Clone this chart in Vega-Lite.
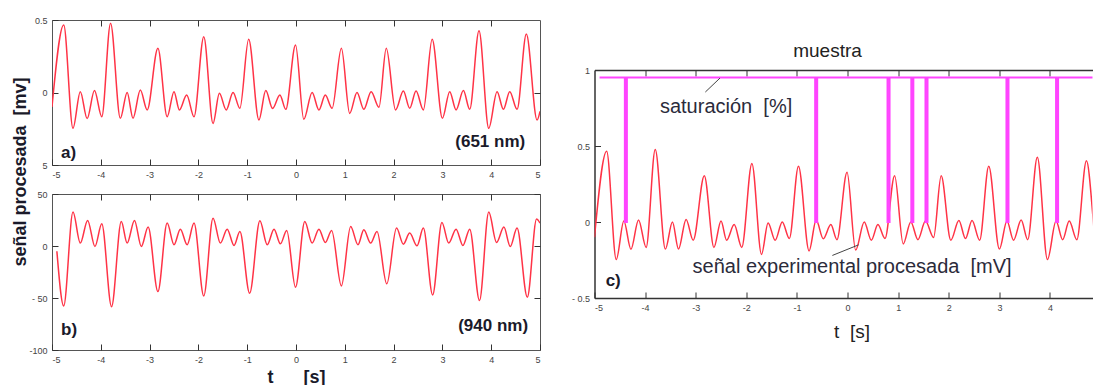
{
  "$schema": "https://vega.github.io/schema/vega-lite/v6.json",
  "padding": {"left": 12, "top": 15, "right": 0, "bottom": 0},
  "background": "white",
  "config": {
    "font": "Liberation Sans",
    "view": {"stroke": "#555", "strokeWidth": 1},
    "axis": {
      "grid": false,
      "domain": false,
      "tickSize": -6,
      "tickColor": "#333",
      "labelPadding": 11,
      "labelFontSize": 9,
      "labelColor": "#444",
      "labelFont": "Liberation Sans",
      "title": null
    }
  },
  "datasets": {
    "sig651": [
      {"t": -5.00, "v": -0.10}, {"t": -4.76, "v": 0.465}, {"t": -4.57, "v": -0.247}, {"t": -4.42, "v": 0.006},
      {"t": -4.28, "v": -0.18}, {"t": -4.13, "v": 0.013}, {"t": -3.98, "v": -0.167}, {"t": -3.80, "v": 0.477},
      {"t": -3.60, "v": -0.178}, {"t": -3.46, "v": 0.0}, {"t": -3.34, "v": -0.178}, {"t": -3.19, "v": 0.017},
      {"t": -3.05, "v": -0.12}, {"t": -2.83, "v": 0.305}, {"t": -2.64, "v": -0.167}, {"t": -2.50, "v": 0.006},
      {"t": -2.39, "v": -0.12}, {"t": -2.24, "v": -0.017}, {"t": -2.09, "v": -0.167}, {"t": -1.89, "v": 0.385},
      {"t": -1.70, "v": -0.213}, {"t": -1.57, "v": -0.006}, {"t": -1.43, "v": -0.12}, {"t": -1.29, "v": 0.0},
      {"t": -1.15, "v": -0.109}, {"t": -0.97, "v": 0.367}, {"t": -0.76, "v": -0.19}, {"t": -0.62, "v": 0.013},
      {"t": -0.48, "v": -0.11}, {"t": -0.33, "v": -0.017}, {"t": -0.21, "v": -0.116}, {"t": -0.01, "v": 0.327},
      {"t": 0.16, "v": -0.185}, {"t": 0.33, "v": 0.0}, {"t": 0.47, "v": -0.12}, {"t": 0.60, "v": -0.017},
      {"t": 0.74, "v": -0.109}, {"t": 0.93, "v": 0.305}, {"t": 1.10, "v": -0.144}, {"t": 1.25, "v": 0.0},
      {"t": 1.39, "v": -0.116}, {"t": 1.54, "v": 0.006}, {"t": 1.70, "v": -0.102}, {"t": 1.85, "v": 0.305},
      {"t": 2.04, "v": -0.12}, {"t": 2.20, "v": 0.01}, {"t": 2.33, "v": -0.109}, {"t": 2.46, "v": 0.01},
      {"t": 2.61, "v": -0.12}, {"t": 2.79, "v": 0.367}, {"t": 3.00, "v": -0.178}, {"t": 3.15, "v": 0.006},
      {"t": 3.28, "v": -0.12}, {"t": 3.43, "v": 0.013}, {"t": 3.56, "v": -0.116}, {"t": 3.75, "v": 0.426},
      {"t": 3.95, "v": -0.247}, {"t": 4.12, "v": 0.006}, {"t": 4.25, "v": -0.116}, {"t": 4.38, "v": 0.006},
      {"t": 4.53, "v": -0.116}, {"t": 4.72, "v": 0.403}, {"t": 4.94, "v": -0.19}, {"t": 5.00, "v": -0.13}
    ],
    "sig940": [
      {"t": -4.90, "v": -5}, {"t": -4.76, "v": -57.6}, {"t": -4.57, "v": 32.6}, {"t": -4.42, "v": 2.8},
      {"t": -4.27, "v": 24.6}, {"t": -4.12, "v": -0.5}, {"t": -3.98, "v": 21.4}, {"t": -3.78, "v": -58.3},
      {"t": -3.58, "v": 23.6}, {"t": -3.46, "v": 2.8}, {"t": -3.31, "v": 24.6}, {"t": -3.17, "v": -0.5},
      {"t": -3.03, "v": 18.2}, {"t": -2.83, "v": -43.8}, {"t": -2.64, "v": 22.0}, {"t": -2.50, "v": 1.2},
      {"t": -2.37, "v": 16.2}, {"t": -2.23, "v": 1.2}, {"t": -2.09, "v": 22.0}, {"t": -1.89, "v": -48.0},
      {"t": -1.70, "v": 26.8}, {"t": -1.55, "v": 2.8}, {"t": -1.41, "v": 16.2}, {"t": -1.27, "v": 0.5},
      {"t": -1.15, "v": 14.0}, {"t": -0.95, "v": -45.5}, {"t": -0.74, "v": 24.3}, {"t": -0.59, "v": 1.2},
      {"t": -0.45, "v": 16.2}, {"t": -0.32, "v": 2.1}, {"t": -0.19, "v": 15.0}, {"t": -0.01, "v": -39.7},
      {"t": 0.18, "v": 23.6}, {"t": 0.33, "v": 2.8}, {"t": 0.47, "v": 16.2}, {"t": 0.60, "v": 3.4},
      {"t": 0.73, "v": 15.0}, {"t": 0.93, "v": -38.4}, {"t": 1.12, "v": 18.8}, {"t": 1.27, "v": 1.2},
      {"t": 1.39, "v": 15.6}, {"t": 1.53, "v": 2.8}, {"t": 1.66, "v": 14.0}, {"t": 1.86, "v": -36.4},
      {"t": 2.06, "v": 17.2}, {"t": 2.20, "v": 1.8}, {"t": 2.33, "v": 12.4}, {"t": 2.48, "v": 0.2},
      {"t": 2.61, "v": 17.2}, {"t": 2.80, "v": -47.0}, {"t": 2.99, "v": 22.6}, {"t": 3.13, "v": 2.8},
      {"t": 3.28, "v": 16.2}, {"t": 3.42, "v": 0.5}, {"t": 3.56, "v": 16.2}, {"t": 3.76, "v": -52.5},
      {"t": 3.95, "v": 32.6}, {"t": 4.11, "v": 3.4}, {"t": 4.26, "v": 18.2}, {"t": 4.39, "v": -0.5},
      {"t": 4.53, "v": 17.2}, {"t": 4.74, "v": -49.3}, {"t": 4.93, "v": 25.9}, {"t": 5.00, "v": 22.0}
    ],
    "sat": [
      {"t": -4.90, "v": 0.95},
      {"t": -4.40, "v": 0.95}, {"t": -4.40, "v": 0}, {"t": -4.36, "v": 0}, {"t": -4.36, "v": 0.95},
      {"t": -0.64, "v": 0.95}, {"t": -0.64, "v": 0}, {"t": -0.60, "v": 0}, {"t": -0.60, "v": 0.95},
      {"t": 0.79, "v": 0.95}, {"t": 0.79, "v": 0}, {"t": 0.83, "v": 0}, {"t": 0.83, "v": 0.95},
      {"t": 1.26, "v": 0.95}, {"t": 1.26, "v": 0}, {"t": 1.30, "v": 0}, {"t": 1.30, "v": 0.95},
      {"t": 1.54, "v": 0.95}, {"t": 1.54, "v": 0}, {"t": 1.58, "v": 0}, {"t": 1.58, "v": 0.95},
      {"t": 3.14, "v": 0.95}, {"t": 3.14, "v": 0}, {"t": 3.18, "v": 0}, {"t": 3.18, "v": 0.95},
      {"t": 4.12, "v": 0.95}, {"t": 4.12, "v": 0}, {"t": 4.16, "v": 0}, {"t": 4.16, "v": 0.95},
      {"t": 5.00, "v": 0.95}
    ]
  },
  "spacing": 29.5,
  "hconcat": [
    {
      "bounds": "flush",
      "spacing": 29,
      "title": {
        "text": "señal procesada\u00a0\u00a0[mv]",
        "orient": "left",
        "anchor": "middle",
        "fontSize": 18,
        "fontWeight": "bold",
        "color": "#1a1a2a",
        "offset": -2,
        "dx": 29
      },
      "vconcat": [
        {
          "width": 488,
          "height": 145,
          "resolve": {"axis": {"x": "independent", "y": "independent"}},
          "layer": [
            {
              "data": {"name": "sig651"},
              "mark": {"type": "line", "color": "#ff3346", "strokeWidth": 1.5, "interpolate": "monotone", "clip": true},
              "encoding": {
                "x": {"field": "t", "type": "quantitative", "scale": {"domain": [-5, 5], "nice": false, "zero": false},
                      "axis": {"orient": "bottom", "values": [-5, -4, -3, -2, -1, 0, 1, 2, 3, 4, 5],
                               "labelExpr": "datum.value < 0 ? '-' + abs(datum.value) : '' + datum.value"}},
                "y": {"field": "v", "type": "quantitative", "scale": {"domain": [-0.5, 0.5], "nice": false, "zero": false},
                      "axis": {"orient": "left", "values": [-0.5, 0, 0.5],
                               "labelExpr": "datum.value == 0.5 ? '0.5' : datum.value == 0 ? '0' : '5'"}}
              }
            },
            {
              "data": {"values": [
                {"t": -4.66, "v": -0.417, "s": "a)"},
                {"t": 3.98, "v": -0.338, "s": "(651 nm)"}
              ]},
              "mark": {"type": "text", "fontSize": 17, "fontWeight": "bold", "color": "#1a1a2a"},
              "encoding": {
                "x": {"field": "t", "type": "quantitative",
                      "axis": {"orient": "top", "values": [-4, -3, -2, -1, 0, 1, 2, 3, 4], "labels": false}},
                "y": {"field": "v", "type": "quantitative",
                      "axis": {"orient": "right", "values": [0], "labels": false}},
                "text": {"field": "s"}
              }
            }
          ]
        },
        {
          "width": 488,
          "height": 156,
          "resolve": {"axis": {"x": "independent", "y": "independent"}},
          "layer": [
            {
              "data": {"name": "sig940"},
              "mark": {"type": "line", "color": "#ff3346", "strokeWidth": 1.5, "interpolate": "monotone", "clip": true},
              "encoding": {
                "x": {"field": "t", "type": "quantitative", "scale": {"domain": [-5, 5], "nice": false, "zero": false},
                      "axis": {"orient": "bottom", "values": [-5, -4, -3, -2, -1, 0, 1, 2, 3, 4, 5],
                               "labelExpr": "datum.value < 0 ? '-' + abs(datum.value) : '' + datum.value",
                               "title": "t\u00a0\u00a0\u00a0\u00a0\u00a0\u00a0[s]", "titleFontSize": 18, "titleFontWeight": "bold",
                               "titleColor": "#1a1a2a", "titlePadding": 4}},
                "y": {"field": "v", "type": "quantitative", "scale": {"domain": [-100, 50], "nice": false, "zero": false},
                      "axis": {"orient": "left", "values": [-100, -50, 0, 50],
                               "labelExpr": "datum.value == -100 ? '-100' : datum.value == -50 ? '- 50' : '' + datum.value"}}
              }
            },
            {
              "data": {"values": [
                {"t": -4.65, "v": -80.7, "s": "b)"},
                {"t": 4.04, "v": -77.4, "s": "(940 nm)"}
              ]},
              "mark": {"type": "text", "fontSize": 17, "fontWeight": "bold", "color": "#1a1a2a"},
              "encoding": {
                "x": {"field": "t", "type": "quantitative",
                      "axis": {"orient": "top", "values": [-4, -3, -2, -1, 0, 1, 2, 3, 4], "labels": false}},
                "y": {"field": "v", "type": "quantitative",
                      "axis": {"orient": "right", "values": [-50, 0, 50], "labels": false}},
                "text": {"field": "s"}
              }
            }
          ]
        }
      ]
    },
    {
      "bounds": "flush",
      "spacing": 10,
      "vconcat": [
        {
          "width": 10,
          "height": 40,
          "view": {"stroke": null},
          "data": {"values": [{}]},
          "mark": {"type": "text"},
          "encoding": {"text": {"value": ""}}
        },
        {
          "width": 498,
          "height": 228,
          "view": {"stroke": null},
          "title": {"text": "muestra", "fontSize": 19, "fontWeight": "normal", "color": "#222", "anchor": "middle", "offset": 5, "dx": -16},
          "resolve": {"axis": {"x": "independent", "y": "independent"}},
          "layer": [
            {
              "data": {"name": "sig651"},
              "mark": {"type": "line", "color": "#ff3346", "strokeWidth": 1.5, "interpolate": "monotone", "clip": true},
              "encoding": {
                "x": {"field": "t", "type": "quantitative", "scale": {"domain": [-5, 4.84], "nice": false, "zero": false},
                      "axis": {"orient": "bottom", "values": [-5, -4, -3, -2, -1, 0, 1, 2, 3, 4], "domain": true,
                               "domainColor": "#333", "domainWidth": 1.5,
                               "labelExpr": "datum.value < 0 ? '-' + abs(datum.value) : '' + datum.value",
                               "title": "t\u00a0\u00a0[s]", "titleFontSize": 19, "titleFontWeight": "normal",
                               "titleColor": "#222", "titlePadding": 10, "titleX": 257}},
                "y": {"field": "v", "type": "quantitative", "scale": {"domain": [-0.5, 1], "nice": false, "zero": false},
                      "axis": {"orient": "left", "values": [-0.5, 0, 0.5, 1], "domain": true,
                               "domainColor": "#333", "domainWidth": 1.5,
                               "labelExpr": "datum.value == -0.5 ? '- 0.5' : '' + datum.value"}}
              }
            },
            {
              "data": {"name": "sat"},
              "mark": {"type": "line", "color": "#ff44ff", "strokeWidth": 2, "interpolate": "linear", "clip": true},
              "encoding": {
                "x": {"field": "t", "type": "quantitative",
                      "axis": {"orient": "top", "values": [-4, -3, -2, -1, 0, 1, 2, 3, 4], "labels": false,
                               "domain": true, "domainColor": "#333", "domainWidth": 1.5}},
                "y": {"field": "v", "type": "quantitative", "axis": null},
                "order": {"value": null}
              }
            },
            {
              "data": {"values": [
                {"t": -2.81, "v": 0.855, "t2": -2.52, "v2": 0.947},
                {"t": -0.30, "v": -0.22, "t2": 0.22, "v2": -0.15}
              ]},
              "mark": {"type": "rule", "color": "#444", "strokeWidth": 1},
              "encoding": {
                "x": {"field": "t", "type": "quantitative", "axis": null},
                "y": {"field": "v", "type": "quantitative", "axis": null},
                "x2": {"field": "t2"},
                "y2": {"field": "v2"}
              }
            },
            {
              "data": {"values": [
                {"t": -2.40, "v": 0.757, "s": "saturación\u00a0\u00a0[%]"},
                {"t": 0.09, "v": -0.296, "s": "señal experimental procesada\u00a0\u00a0[mV]"}
              ]},
              "mark": {"type": "text", "fontSize": 20, "color": "#2b2b3b"},
              "encoding": {
                "x": {"field": "t", "type": "quantitative", "axis": null},
                "y": {"field": "v", "type": "quantitative", "axis": null},
                "text": {"field": "s"}
              }
            },
            {
              "data": {"values": [{"t": -4.63, "v": -0.39, "s": "c)"}]},
              "mark": {"type": "text", "fontSize": 17, "fontWeight": "bold", "color": "#1a1a2a"},
              "encoding": {
                "x": {"field": "t", "type": "quantitative", "axis": null},
                "y": {"field": "v", "type": "quantitative", "axis": null},
                "text": {"field": "s"}
              }
            }
          ]
        }
      ]
    }
  ]
}
